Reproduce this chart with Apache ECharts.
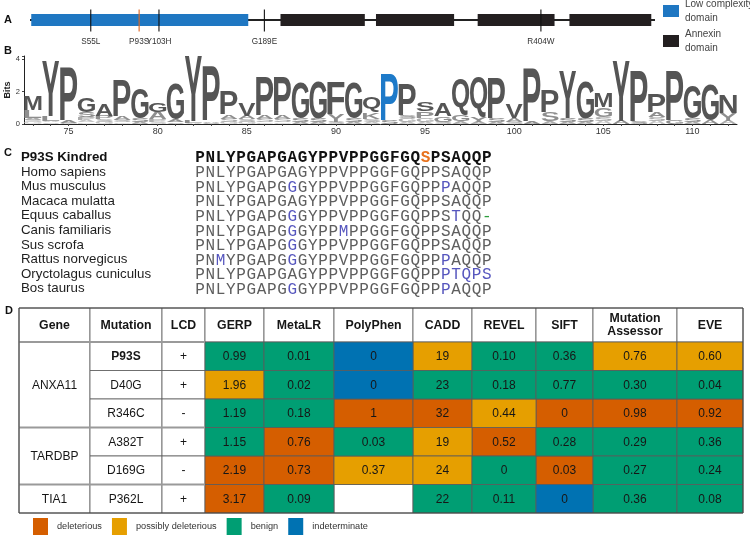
<!DOCTYPE html>
<html><head><meta charset="utf-8">
<script src="https://cdn.jsdelivr.net/npm/echarts@6/dist/echarts.min.js"></script>
<style>html,body{margin:0;padding:0;background:#fff}#c{width:750px;height:539px}</style>
</head><body><div id="c"></div>
<script>
// ================= DATA =================
// Panel A – ANXA11 protein diagram (diagram axis in residues, positions as drawn in the figure)
const proteinLength = 505;
const lcdDomains = [[2, 177]];
const annexinDomains = [[203, 271], [280, 343], [362, 424], [436, 502]];
const mutationNames = ['S55L', 'P93S', 'Y103H', 'G189E', 'R404W'];
const mutationDiagramPositions = [50, 89, 105, 190, 413];
const highlightedMutation = 'P93S';

// Panel B – sequence logo (positions; stacks bottom -> top, [residue, bits])
const logoPositions = ['73','74','75','76','77','78','79','80','81','82','83','84','85','86','87','88','89','90','91','92',
                       '93','94','95','96','97','98','99','100','101','102','103','104','105','106','107','108','109','110','111','112'];
const logoStacks = [
  [['G',0.12],['S',0.12],['A',0.12],['L',0.5],['M',0.85]],
  [['S',0.1],['A',0.1],['L',0.3],['Y',3.4]],
  [['G',0.08],['A',0.12],['P',3.3]],
  [['E',0.1],['A',0.12],['P',0.18],['S',0.35],['G',0.85]],
  [['G',0.12],['S',0.18],['P',0.2],['A',0.75]],
  [['G',0.1],['S',0.15],['A',0.2],['P',2.25]],
  [['A',0.15],['S',0.2],['G',1.85]],
  [['S',0.12],['P',0.18],['A',0.45],['G',0.6]],
  [['S',0.1],['A',0.15],['G',2.2]],
  [['A',0.05],['L',0.12],['Y',4.0]],
  [['S',0.08],['A',0.1],['P',3.35]],
  [['G',0.12],['S',0.2],['A',0.25],['P',1.4]],
  [['G',0.12],['S',0.18],['A',0.2],['V',0.8]],
  [['G',0.1],['S',0.2],['A',0.2],['P',2.4]],
  [['G',0.1],['S',0.2],['A',0.2],['P',2.4]],
  [['A',0.15],['S',0.2],['G',2.15]],
  [['A',0.15],['S',0.2],['G',2.25]],
  [['S',0.12],['Y',0.45],['F',2.0]],
  [['A',0.15],['S',0.2],['G',2.15]],
  [['A',0.15],['S',0.15],['K',0.4],['Q',0.9]],
  [['S',0.2],['P',2.9]],
  [['A',0.12],['G',0.25],['S',0.15],['P',1.95]],
  [['A',0.12],['G',0.25],['P',0.4],['S',0.55]],
  [['S',0.12],['G',0.35],['A',0.8]],
  [['A',0.15],['G',0.4],['Q',2.3]],
  [['A',0.15],['Y',0.3],['Q',2.45]],
  [['A',0.15],['S',0.2],['P',2.45]],
  [['S',0.12],['A',0.25],['V',0.85]],
  [['A',0.15],['P',3.25]],
  [['A',0.15],['S',0.55],['P',1.35]],
  [['A',0.12],['S',0.25],['Y',2.9]],
  [['A',0.15],['S',0.2],['G',2.25]],
  [['A',0.2],['S',0.25],['G',0.6],['M',0.85]],
  [['A',0.2],['Y',3.7]],
  [['S',0.15],['P',3.15]],
  [['A',0.2],['S',0.25],['A',0.3],['P',1.15]],
  [['G',0.2],['P',3.05]],
  [['A',0.15],['S',0.2],['G',2.0]],
  [['A',0.2],['G',2.15]],
  [['A',0.2],['Y',0.45],['N',1.15]]
];
const logoHighlightPosition = '93';
const logoYTicks = [0, 2, 4];

// Panel C – alignment
const speciesNames = ['P93S Kindred','Homo sapiens','Mus musculus','Macaca mulatta','Equus caballus',
  'Canis familiaris','Sus scrofa','Rattus norvegicus','Oryctolagus cuniculus','Bos taurus'];
const sequences = [
  'PNLYPGAPGAGYPPVPPGGFGQSPSAQQP',
  'PNLYPGAPGAGYPPVPPGGFGQPPSAQQP',
  'PNLYPGAPGGGYPPVPPGGFGQPPPAQQP',
  'PNLYPGAPGAGYPPVPPGGFGQPPSAQQP',
  'PNLYPGAPGGGYPPVPPGGFGQPPSTQQ-',
  'PNLYPGAPGGGYPPMPPGGFGQPPSAQQP',
  'PNLYPGAPGGGYPPVPPGGFGQPPSAQQP',
  'PNMYPGAPGGGYPPVPPGGFGQPPPAQQP',
  'PNLYPGAPGAGYPPVPPGGFGQPPPTQPS',
  'PNLYPGAPGGGYPPVPPGGFGQPPPAQQP'
];
const variantColumns = [[22],[],[9,24],[],[9,25,28],[9,14],[9],[2,9,24],[24,25,26,27,28],[9,24]];

// Panel D – prediction table
const geneOfMutation = ['ANXA11','ANXA11','ANXA11','TARDBP','TARDBP','TIA1'];
const mutations = ['P93S','D40G','R346C','A382T','D169G','P362L'];
const lcdFlags = ['+','+','-','+','-','+'];
const toolNames = ['GERP','MetaLR','PolyPhen','CADD','REVEL','SIFT','Mutation\nAssessor','EVE'];
const gerpScores      = ['0.99','1.96','1.19','1.15','2.19','3.17'];
const gerpClass       = ['B','P','B','B','D','D'];
const metaLRScores    = ['0.01','0.02','0.18','0.76','0.73','0.09'];
const metaLRClass     = ['B','B','B','D','D','B'];
const polyPhenScores  = ['0','0','1','0.03','0.37',''];
const polyPhenClass   = ['I','I','D','B','P',''];
const caddScores      = ['19','23','32','19','24','22'];
const caddClass       = ['P','B','D','P','P','B'];
const revelScores     = ['0.10','0.18','0.44','0.52','0','0.11'];
const revelClass      = ['B','B','P','D','B','B'];
const siftScores      = ['0.36','0.77','0','0.28','0.03','0'];
const siftClass       = ['B','B','D','B','D','I'];
const maScores        = ['0.76','0.30','0.98','0.29','0.27','0.36'];
const maClass         = ['P','B','D','B','B','B'];
const eveScores       = ['0.60','0.04','0.92','0.36','0.24','0.08'];
const eveClass        = ['P','B','D','B','B','B'];
const classCodes = ['D','P','B','I'];
const classNames = ['deleterious','possibly deleterious','benign','indeterminate'];

// ================= STYLE / LAYOUT =================
const FONT = '"Liberation Sans", Arial, Helvetica, sans-serif';
const classColors = {D:'#D55E00', P:'#E69F00', B:'#009E73', I:'#0072B2'};
const colEdges = [0, 71, 143, 186, 245, 315, 394, 453, 517, 574, 658, 724];
const rowEdges = [0, 34, 62.5, 91, 119.5, 148, 176.5, 205];
const logoRankColors = ['#555555','#8e8e8e','#ababab','#c4c4c4','#d6d6d6'];

const scoreColumns = [
  [gerpScores, gerpClass],[metaLRScores, metaLRClass],[polyPhenScores, polyPhenClass],[caddScores, caddClass],
  [revelScores, revelClass],[siftScores, siftClass],[maScores, maClass],[eveScores, eveClass]
];

// ---------- derived items ----------
const logoItems = [];
logoStacks.forEach((stack, i) => {
  let base = 0;
  stack.forEach(([ch, bits], k) => {
    logoItems.push({value: [i, base, base + bits], ch: ch, rank: stack.length - 1 - k, pos: logoPositions[i]});
    base += bits;
  });
});

const alignItems = [];
sequences.forEach((seq, r) => {
  for (let c = 0; c < seq.length; c++) {
    let color = r === 0 ? '#111' : '#5e5e5e';
    if (variantColumns[r].indexOf(c) >= 0) {
      color = r === 0 ? '#E8731F' : (seq[c] === '-' ? '#2E9E3E' : '#5656BE');
    }
    alignItems.push({value: [c, r], ch: seq[c], color: color, bold: r === 0});
  }
});

const whiteCells = [];
const headerNames = ['Gene','Mutation','LCD'].concat(toolNames);
headerNames.forEach((h, c) => whiteCells.push({value:[c, 0, 1], text:h, bold:true, header:true}));
let gStart = 0;
for (let i = 1; i <= geneOfMutation.length; i++) {
  if (i === geneOfMutation.length || geneOfMutation[i] !== geneOfMutation[gStart]) {
    whiteCells.push({value:[0, gStart + 1, i + 1], text: geneOfMutation[gStart], bold:false});
    gStart = i;
  }
}
mutations.forEach((m, r) => {
  whiteCells.push({value:[1, r + 1, r + 2], text:m, bold: m === highlightedMutation});
  whiteCells.push({value:[2, r + 1, r + 2], text:lcdFlags[r], bold:false});
});
const classCells = {D:[], P:[], B:[], I:[]};
scoreColumns.forEach(([vals, cls], t) => {
  vals.forEach((v, r) => {
    const item = {value:[3 + t, r + 1, r + 2], text:v};
    if (cls[r]) classCells[cls[r]].push(item);
    else whiteCells.push(Object.assign(item, {bold:false}));
  });
});

// ---------- glyph measurement for logo ----------
const measureCtx = document.createElement('canvas').getContext('2d');
const glyphCache = {};
const LOGO_FS = 100;
function glyph(ch) {
  if (!glyphCache[ch]) {
    measureCtx.font = 'bold ' + LOGO_FS + 'px "Liberation Sans"';
    measureCtx.textAlign = 'center';
    measureCtx.textBaseline = 'middle';
    const m = measureCtx.measureText(ch);
    glyphCache[ch] = {L: m.actualBoundingBoxLeft, R: m.actualBoundingBoxRight,
                      A: m.actualBoundingBoxAscent, D: m.actualBoundingBoxDescent};
  }
  return glyphCache[ch];
}

function cellRect(api, c, r0, r1) {
  const p0 = api.coord([colEdges[c], rowEdges[r0]]);
  const p1 = api.coord([colEdges[c + 1], rowEdges[r1]]);
  return {x: p0[0], y: p0[1], width: p1[0] - p0[0], height: p1[1] - p0[1]};
}
function cellRender(items, fill) {
  return function (params, api) {
    const it = items[params.dataIndex];
    const rc = cellRect(api, it.value[0], it.value[1], it.value[2]);
    const children = [
      {type:'rect', shape: rc, style:{fill: fill, stroke:'#5a5a5a', lineWidth:0.8}}
    ];
    if (it.text) children.push({type:'text', x: rc.x + rc.width / 2, y: rc.y + rc.height / 2 + 0.5,
      style:{text: it.text, fontFamily: FONT, fontSize: it.header ? 12.3 : 12, fontWeight: it.bold ? 'bold' : 'normal',
        fill:'#161616', align:'center', verticalAlign:'middle', lineHeight: 13}});
    return {type:'group', children: children};
  };
}

// ================= OPTION =================
const option = {
  animation: false,
  backgroundColor: '#fff',
  grid: [
    {left: 30, top: 10, width: 625, height: 20, outerBoundsMode: 'none'},
    {left: 24, top: 56, width: 713, height: 68, outerBoundsMode: 'none'},
    {left: 195, top: 150, width: 297, height: 146, outerBoundsMode: 'none'},
    {left: 19, top: 308, width: 724, height: 205, outerBoundsMode: 'none'}
  ],
  xAxis: [
    {type:'value', gridIndex:0, min:1, max:proteinLength, show:false},
    {type:'category', gridIndex:1, data: logoPositions, boundaryGap:true,
      axisLine:{show:true, lineStyle:{color:'#222', width:1}},
      axisTick:{show:true, alignWithLabel:true, interval:0, length:2, lineStyle:{color:'#444'}},
      axisLabel:{interval:(idx, v) => (+v) % 5 === 0, fontFamily: FONT, fontSize: 9, color:'#333', margin:3},
      splitLine:{show:false}},
    {type:'category', gridIndex:2, data: sequences[0].split('').map((_, i) => String(i)), show:false},
    {type:'value', gridIndex:3, min:0, max:colEdges[colEdges.length - 1], show:false}
  ],
  yAxis: [
    {type:'value', gridIndex:0, min:-1, max:1, show:false},
    {type:'value', gridIndex:1, min:0, max:4.2, interval:2,
      name:'Bits', nameLocation:'middle', nameGap:12, nameRotate:90, nameMoveOverlap:false,
      nameTextStyle:{fontFamily: FONT, fontSize: 9, fontWeight:'bold', color:'#222'},
      axisLine:{show:true, lineStyle:{color:'#222', width:1}},
      axisTick:{show:true, length:2, lineStyle:{color:'#444'}},
      axisLabel:{fontFamily: FONT, fontSize: 7.5, color:'#333', margin:4,
        formatter: v => (logoYTicks.indexOf(v) >= 0 ? String(v) : '')},
      splitLine:{show:false}},
    {type:'category', gridIndex:2, data: speciesNames, inverse:true,
      axisLine:{show:false}, axisTick:{show:false}, splitLine:{show:false},
      axisLabel:{align:'left', margin:174, interval:0,
        formatter: (v, i) => (i === 0 ? '{b|' + v + '}' : '{n|' + v + '}'),
        rich:{b:{fontFamily: FONT, fontSize:13.3, fontWeight:'bold', color:'#111'},
              n:{fontFamily: FONT, fontSize:13.3, color:'#1e1e1e'}}}},
    {type:'value', gridIndex:3, min:0, max:rowEdges[rowEdges.length - 1], inverse:true, show:false}
  ],
  legend: [
    {orient:'vertical', left:663, top:-3, padding:0, itemWidth:16, itemHeight:12, itemGap:2, icon:'rect', selectedMode:false,
      data:['Low complexity domain','Annexin domain'],
      formatter: n => n.replace(' domain', '\ndomain'),
      textStyle:{fontFamily: FONT, fontSize:10, color:'#444', lineHeight:14, padding:[0,0,0,1]}},
    {orient:'horizontal', left:33, top:518, padding:0, itemWidth:15, itemHeight:17, itemGap:10, icon:'rect', selectedMode:false,
      data: classNames,
      textStyle:{fontFamily: FONT, fontSize:9.2, color:'#333', padding:[0,0,0,4]}}
  ],
  graphic: [
    {type:'text', x:4, y:20, style:{text:'A', fontFamily: FONT, fontSize:11, fontWeight:'bold', fill:'#111', verticalAlign:'middle'}},
    {type:'text', x:4, y:51, style:{text:'B', fontFamily: FONT, fontSize:11, fontWeight:'bold', fill:'#111', verticalAlign:'middle'}},
    {type:'text', x:4, y:153, style:{text:'C', fontFamily: FONT, fontSize:11, fontWeight:'bold', fill:'#111', verticalAlign:'middle'}},
    {type:'text', x:5, y:311, style:{text:'D', fontFamily: FONT, fontSize:11, fontWeight:'bold', fill:'#111', verticalAlign:'middle'}}
  ],
  series: [
    {type:'line', xAxisIndex:0, yAxisIndex:0, data:[[1,0],[proteinLength,0]], symbol:'none', silent:true,
      lineStyle:{color:'#222', width:2}, z:1},
    {type:'custom', name:'Low complexity domain', xAxisIndex:0, yAxisIndex:0, itemStyle:{color:'#1F77C2'},
      data: lcdDomains, z:2,
      renderItem:(params, api) => {
        const p0 = api.coord([api.value(0), 0.6]), p1 = api.coord([api.value(1), -0.6]);
        return {type:'rect', shape:{x:p0[0], y:p0[1], width:p1[0]-p0[0], height:p1[1]-p0[1]}, style:{fill:'#1F77C2'}};
      }},
    {type:'custom', name:'Annexin domain', xAxisIndex:0, yAxisIndex:0, itemStyle:{color:'#231F20'},
      data: annexinDomains, z:2,
      renderItem:(params, api) => {
        const p0 = api.coord([api.value(0), 0.6]), p1 = api.coord([api.value(1), -0.6]);
        return {type:'rect', shape:{x:p0[0], y:p0[1], width:p1[0]-p0[0], height:p1[1]-p0[1]}, style:{fill:'#231F20'}};
      }},
    {type:'custom', xAxisIndex:0, yAxisIndex:0, z:3, data: mutationDiagramPositions.map(v => [v, 0]),
      renderItem:(params, api) => {
        const name = mutationNames[params.dataIndex];
        const top = api.coord([api.value(0), 1.05]), bot = api.coord([api.value(0), -1.15]);
        const col = name === highlightedMutation ? '#E0651E' : '#111';
        return {type:'group', children:[
          {type:'line', shape:{x1:top[0], y1:top[1], x2:bot[0], y2:bot[1]}, style:{stroke:col, lineWidth:1.1}},
          {type:'text', x:bot[0], y:bot[1] + 10, style:{text:name, fontFamily: FONT, fontSize:8.2, fill:'#333',
            align:'center', verticalAlign:'middle'}}
        ]};
      }},
    {type:'custom', xAxisIndex:1, yAxisIndex:1, z:3, data: logoItems.map(d => d.value),
      renderItem:(params, api) => {
        const it = logoItems[params.dataIndex];
        const pb = api.coord([api.value(0), api.value(1)]);
        const pt = api.coord([api.value(0), api.value(2)]);
        const h = pb[1] - pt[1];
        if (h < 0.4) return;
        const w = api.size([1, 0])[0] * 0.97;
        const g = glyph(it.ch);
        let fill = logoRankColors[Math.min(it.rank, logoRankColors.length - 1)];
        if (it.pos === logoHighlightPosition && it.rank === 0) fill = '#1E7AC9';
        return {type:'text', x: pb[0], y: pb[1], scaleX: w / (g.L + g.R), scaleY: h / (g.A + g.D),
          style:{text: it.ch, x:(g.L - g.R) / 2, y: -g.D, fontFamily:'"Liberation Sans"', fontWeight:'bold',
            fontSize: LOGO_FS, fill: fill, align:'center', verticalAlign:'middle'}};
      }},
    {type:'custom', xAxisIndex:2, yAxisIndex:2, z:3, data: alignItems.map(d => d.value),
      renderItem:(params, api) => {
        const it = alignItems[params.dataIndex];
        const p = api.coord([api.value(0), api.value(1)]);
        return {type:'text', x:p[0], y:p[1] + 1, style:{text: it.ch, fill: it.color, fontSize:16,
          fontFamily:'"Liberation Mono", "DejaVu Sans Mono", monospace', fontWeight: it.bold ? 'bold' : 'normal',
          align:'center', verticalAlign:'middle'}};
      }},
    {type:'custom', xAxisIndex:3, yAxisIndex:3, z:3, data: whiteCells.map(d => d.value),
      renderItem: cellRender(whiteCells, '#ffffff')}
  ].concat(classCodes.map((code, k) => ({
      type:'custom', name: classNames[k], xAxisIndex:3, yAxisIndex:3, z:4,
      itemStyle:{color: classColors[code]},
      data: classCells[code].map(d => d.value),
      renderItem: cellRender(classCells[code], classColors[code])
    }))).concat([
    {type:'custom', xAxisIndex:3, yAxisIndex:3, z:5, data:[[0, 0]],
      renderItem:(params, api) => {
        const children = [];
        [1, 4, 6].forEach(r => {
          const a = api.coord([colEdges[0], rowEdges[r]]), b = api.coord([colEdges[3], rowEdges[r]]);
          children.push({type:'line', shape:{x1:a[0], y1:a[1], x2:b[0], y2:b[1]}, style:{stroke:'#9a9a9a', lineWidth:2}});
        });
        const tl = api.coord([0, 0]), br = api.coord([colEdges[colEdges.length - 1], rowEdges[rowEdges.length - 1]]);
        children.push({type:'rect', shape:{x:tl[0], y:tl[1], width:br[0]-tl[0], height:br[1]-tl[1]},
          style:{fill:'none', stroke:'#444', lineWidth:1}});
        return {type:'group', children: children};
      }}
  ])
};

const chart = echarts.init(document.getElementById('c'), null, {renderer:'canvas'});
chart.setOption(option);
</script>
</body></html>
